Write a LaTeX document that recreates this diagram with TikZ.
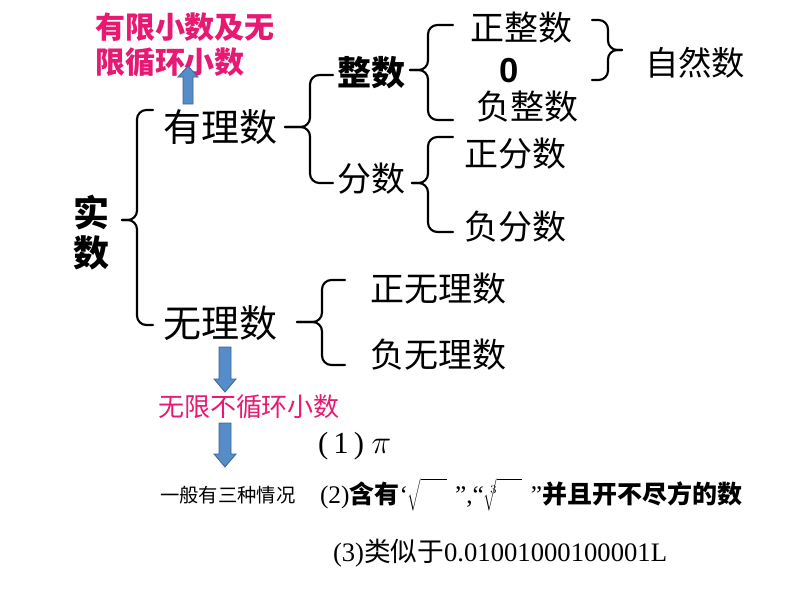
\documentclass[tikz,border=0pt]{standalone}
\usepackage{fontspec}
\setmainfont{Liberation Serif}
\newfontfamily\cjk{Noto Sans CJK SC}
\newfontfamily\sansf{Liberation Sans}
\definecolor{mag}{RGB}{230,25,115}
\definecolor{arrfill}{RGB}{86,140,200}
\definecolor{arrline}{RGB}{60,100,150}
\newcommand\fsz[1]{\fontsize{#1}{#1}\selectfont}
\newcommand\myradbox{\rule[-4pt]{0pt}{19pt}\hspace{19pt}}
\begin{document}
\begin{tikzpicture}[x=0.75pt,y=-0.75pt,
  lbl/.style={inner sep=0pt,outer sep=0pt},
  bracepath/.style={line width=1.6pt,rounded corners=7pt,line join=round,line cap=round},
  blockarrow/.style={fill=arrfill,draw=arrline,line width=0.6pt}]
\useasboundingbox (0,0) rectangle (794,596);

% --- labels ---
\node[lbl,anchor=west,align=left,text=mag,font=\cjk\bfseries\fontsize{22.5}{26.5}\selectfont] (fin) at (95,45) {有限小数及无\\限循环小数};
\node[lbl,align=center,font=\cjk\bfseries\fontsize{27}{30}\selectfont] (real) at (91,233) {实\\数};
\node[lbl,font=\cjk\fsz{28.5}] (rat) at (220,127) {有理数};
\node[lbl,font=\cjk\bfseries\fsz{25.5}] (int) at (371,73) {整数};
\node[lbl,font=\cjk\fsz{25.5}] (frac) at (371,179) {分数};
\node[lbl,font=\cjk\fsz{25.5}] (pint) at (521,28) {正整数};
\node[lbl,font=\sansf\bfseries\fsz{26}] (zero) at (509.5,71) {0};
\node[lbl,font=\cjk\fsz{25.5}] (nint) at (527,107) {负整数};
\node[lbl,font=\cjk\fsz{25}] (nat) at (695,63) {自然数};
\node[lbl,font=\cjk\fsz{25.5}] (pfrac) at (515,154) {正分数};
\node[lbl,font=\cjk\fsz{25.5}] (nfrac) at (515,227) {负分数};
\node[lbl,font=\cjk\fsz{28.5}] (irr) at (220,323) {无理数};
\node[lbl,font=\cjk\fsz{25.5}] (pirr) at (438,289) {正无理数};
\node[lbl,font=\cjk\fsz{25.5}] (nirr) at (438,355) {负无理数};
\node[lbl,text=mag,font=\cjk\fsz{19.5}] (nonrep) at (249,407) {无限不循环小数};
\node[lbl,anchor=west,font=\fsz{23}] (c1) at (318,446) {(\,1\,)\ $\pi$};
\node[lbl,font=\cjk\fsz{14.5}] (three) at (228,495) {一般有三种情况};
\node[lbl,anchor=west,font=\fsz{19}] (c2) at (320,495) {(2){\cjk\bfseries\fsz{18.75}含有}‘$\sqrt{\myradbox}$\,\,”,“$\sqrt[3]{\myradbox}$\,\,”{\cjk\bfseries\fsz{18.75}并且开不尽方的数}};
\node[lbl,anchor=west,font=\fsz{20}] (c3) at (333,553) {(3){\cjk 类似于}0.01001000100001L};

% --- brace coordinates ---
\coordinate (b1t) at (153,110); \coordinate (b1m) at (122,220); \coordinate (b1b) at (153,325);
\coordinate (b2t) at (333,75);  \coordinate (b2m) at (285,127); \coordinate (b2b) at (333,183);
\coordinate (b3t) at (453,25);  \coordinate (b3m) at (410,70);  \coordinate (b3b) at (453,120);
\coordinate (b4t) at (592,20);  \coordinate (b4m) at (622,50);  \coordinate (b4b) at (592,80);
\coordinate (b5t) at (453,137); \coordinate (b5m) at (412,183); \coordinate (b5b) at (453,232);
\coordinate (b6t) at (345,280); \coordinate (b6m) at (297,322); \coordinate (b6b) at (345,365);

% --- braces ---
\draw[bracepath] (b1t) -- (137,110) -- (137,220) -- (b1m);
\draw[bracepath] (b1m) -- (137,220) -- (137,325) -- (b1b);
\draw[bracepath] (b2t) -- (310,75) -- (310,127) -- (b2m);
\draw[bracepath] (b2m) -- (310,127) -- (310,183) -- (b2b);
\draw[bracepath] (b3t) -- (428,25) -- (428,70) -- (b3m);
\draw[bracepath] (b3m) -- (428,70) -- (428,120) -- (b3b);
\draw[bracepath] (b4t) -- (608,20) -- (608,50) -- (b4m);
\draw[bracepath] (b4m) -- (608,50) -- (608,80) -- (b4b);
\draw[bracepath] (b5t) -- (428,137) -- (428,183) -- (b5m);
\draw[bracepath] (b5m) -- (428,183) -- (428,232) -- (b5b);
\draw[bracepath] (b6t) -- (322,280) -- (322,322) -- (b6m);
\draw[bracepath] (b6m) -- (322,322) -- (322,365) -- (b6b);

% --- block arrows ---
\draw[blockarrow] (183,104) -- (183,77) -- (178,77) -- (188,66) -- (198,77) -- (193,77) -- (193,104) -- cycle;
\draw[blockarrow] (219,347) -- (219,379) -- (214,379) -- (225,392) -- (236,379) -- (231,379) -- (231,347) -- cycle;
\draw[blockarrow] (219,423) -- (219,454) -- (214,454) -- (225,467) -- (236,454) -- (231,454) -- (231,423) -- cycle;
\end{tikzpicture}
\end{document}
